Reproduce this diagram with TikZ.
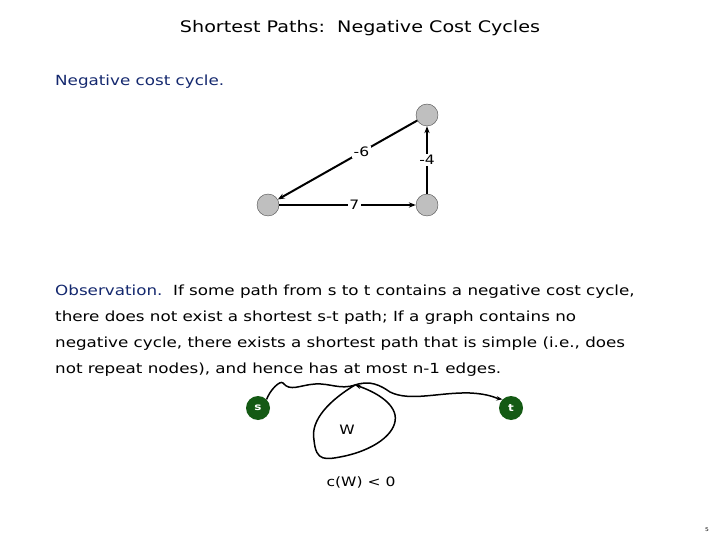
\documentclass[tikz,border=0pt]{standalone}
\usepackage{fontspec}
\setmainfont{DejaVu Sans}[FakeStretch=1.2]
\usetikzlibrary{arrows.meta}
\definecolor{navy}{RGB}{20, 40, 110}
\definecolor{forest}{RGB}{20, 90, 20}
\tikzset{
  vertex/.style={circle, draw=black!70, fill=black!25, minimum size=22bp, inner sep=0pt},
  term/.style={circle, fill=forest, text=white, minimum size=24bp, inner sep=0pt, font=\fontsize{10}{10}\selectfont\bfseries},
  edge/.style={line width=2bp, -{Stealth[length=7bp]}},
  wlabel/.style={fill=white, inner sep=1.5bp, font=\fontsize{13}{13}\selectfont},
  line/.style={anchor=base west, inner sep=0pt, font=\fontsize{14}{14}\selectfont}
}
\begin{document}
\begin{tikzpicture}[x=1bp, y=-1bp]
  \useasboundingbox (0,0) rectangle (720,540);
  % Title
  \node[font=\fontsize{16}{16}\selectfont] (title) at (360,28) {Shortest Paths:\ \ Negative Cost Cycles};
  \node[line, text=navy] (neg) at (55,86) {Negative cost cycle.};
  % Triangle
  \node[vertex] (top) at (427,115) {};
  \node[vertex] (lft) at (268,205) {};
  \node[vertex] (rgt) at (427,205) {};
  \draw[edge] (top) -- node[wlabel, pos=0.4] {-6} (lft);
  \draw[edge] (lft) -- node[wlabel, pos=0.55] {7} (rgt);
  \draw[edge] (rgt) -- node[wlabel] {-4} (top);
  % Observation
  \node[line] (l1) at (55,295) {\textcolor{navy}{Observation.}\ \ If some path from s to t contains a negative cost cycle,};
  \node[line] (l2) at (55,321) {there does not exist a shortest s-t path; If a graph contains no};
  \node[line] (l3) at (55,347) {negative cycle, there exists a shortest path that is simple (i.e., does};
  \node[line] (l4) at (55,373) {not repeat nodes), and hence has at most n-1 edges.};
  % Walk through W
  \node[term] (s) at (258,408) {s};
  \node[term] (t) at (511,408) {t};
  \coordinate (j) at (355,385);
  \draw[line width=1.5bp] (s.north east) .. controls (270,390) and (280,380) .. (283,383)
    .. controls (290,392) and (300,385) .. (315,384) .. controls (330,383) and (340,390) .. (j);
  \draw[line width=1.5bp, -{Stealth[length=6bp]}] (j) .. controls (330,400) and (310,420) .. (314,440)
    .. controls (316,462) and (325,460) .. (345,456) .. controls (380,448) and (398,430) .. (395,415)
    .. controls (392,400) and (370,390) .. (j);
  \draw[line width=1.5bp, -{Stealth[length=6bp]}] (j) .. controls (370,380) and (380,385) .. (390,392)
    .. controls (410,402) and (440,392) .. (470,393) .. controls (490,394) and (495,398) .. (t.north west);
  \node[font=\fontsize{13}{13}\selectfont] (wl) at (347,430) {W};
  \node[font=\fontsize{13}{13}\selectfont] (cw) at (361,482) {c(W) < 0};
  \node[font=\fontsize{5}{5}\selectfont] (pg) at (707,530) {5};
\end{tikzpicture}
\end{document}
